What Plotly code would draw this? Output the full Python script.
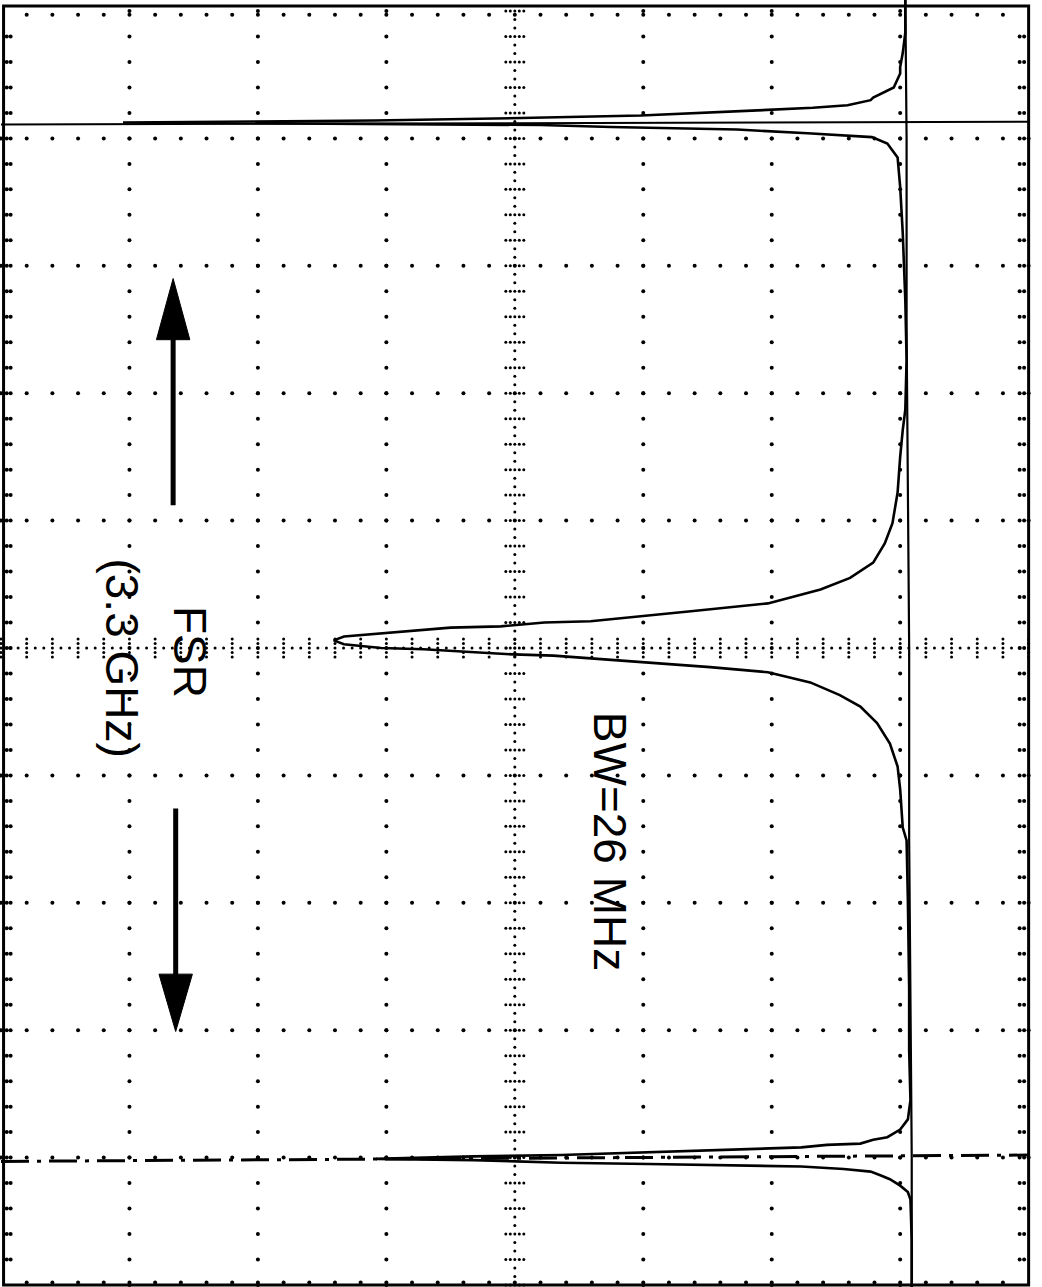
import numpy as np
import plotly.graph_objects as go

# ---- Oscilloscope trace in divisions ----
# sweep axis (vertical on the page, 0..10 div from top) and amplitude axis (horizontal, 0..8 div from left)
sweep = [-0.10, 0.17, 0.33, 0.44, 0.49, 0.60, 0.68, 0.70, 0.74, 0.76, 0.78, 0.82, 0.84, 0.86,
         0.875,
         0.885, 0.895, 0.91, 0.93, 0.96, 0.99, 1.04, 1.15, 1.38, 1.74, 2.27, 2.74,
         3.13, 3.29, 3.50, 3.78, 4.02, 4.18, 4.33, 4.45, 4.54, 4.65, 4.71, 4.76, 4.78, 4.79, 4.80,
         4.83, 4.84, 4.87, 4.89, 4.91,
         4.94,
         4.97, 5.00, 5.01, 5.03, 5.05, 5.06, 5.08, 5.11, 5.15, 5.19, 5.27, 5.37, 5.46, 5.59, 5.75,
         5.93, 6.11, 6.41, 6.51, 6.98, 7.68, 8.16,
         8.55, 8.70, 8.78, 8.84, 8.86, 8.89, 8.90, 8.92, 8.93, 8.96, 8.98, 8.99,
         9.01,
         9.02, 9.04, 9.05, 9.06, 9.07, 9.09, 9.11, 9.14, 9.17, 9.22, 9.27, 9.33, 9.65, 10.10]
amplitude = [7.04, 7.04, 7.02, 7.00, 7.00, 6.95, 6.79, 6.77, 6.59, 6.32, 5.89, 4.98, 4.05, 2.91,
             0.95,
             2.91, 4.20, 4.75, 5.73, 6.28, 6.78, 6.90, 6.98, 7.00, 7.02, 7.04, 7.05,
             7.04, 7.02, 7.00, 6.98, 6.94, 6.88, 6.79, 6.61, 6.38, 5.97, 5.39, 4.88, 4.67, 4.59, 4.23,
             3.89, 3.50, 3.17, 2.90, 2.67,
             2.59,
             2.67, 2.96, 3.29, 3.62, 3.99, 4.30, 4.59, 4.98, 5.52, 5.97, 6.30, 6.53, 6.69, 6.82, 6.92,
             6.98, 7.00, 7.02, 7.05, 7.06, 7.07, 7.07,
             7.08, 7.06, 7.00, 6.90, 6.79, 6.69, 6.43, 6.23, 5.94, 5.04, 4.36, 3.68,
             2.92,
             3.68, 4.36, 5.04, 5.58, 6.23, 6.56, 6.77, 6.85, 6.92, 7.00, 7.06, 7.08, 7.09, 7.09]

# second (flat) trace: the base level running straight down the screen
base_sweep = [-0.10, 1.00, 2.50, 4.00, 5.00, 6.50, 7.50, 9.00, 10.10]
base_amp = [7.04, 7.05, 7.05, 7.06, 7.07, 7.07, 7.08, 7.09, 7.09]

# cursor lines (solid one at the upper resonance, dash-dot one at the lower resonance)
cursor_solid_amp = [0.0, 8.0]
cursor_solid_sweep = [0.89, 0.87]
cursor_dash_amp = [0.0, 8.0]
cursor_dash_sweep = [9.03, 8.98]

# annotation texts
label_bw = "BW=26 MHz"
label_fsr = "FSR"
label_fsr_val = "(3.3 GHz)"

N_X_DIV = 8
N_Y_DIV = 10
MINOR = 5
FONT = "Liberation Sans, Arial, Helvetica, sans-serif"

fig = go.Figure()

# ---- graticule ----
gx, gy = [], []
for k in range(1, N_X_DIV):
    if k == N_X_DIV // 2:
        continue
    for j in range(0, N_Y_DIV * MINOR + 1):
        gx.append(k); gy.append(j / MINOR)
for k in range(1, N_Y_DIV):
    if k == N_Y_DIV // 2:
        continue
    for j in range(0, N_X_DIV * MINOR + 1):
        gx.append(j / MINOR); gy.append(k)
# border ticks
for j in range(1, N_X_DIV * MINOR):
    gx += [j / MINOR, j / MINOR]; gy += [0.03, 9.98]
for j in range(1, N_Y_DIV * MINOR):
    gx += [0.045, 0.075, 7.93, 7.965]; gy += [j / MINOR] * 4
fig.add_trace(go.Scatter(x=gx, y=gy, mode="markers",
                         marker=dict(size=4, color="black"), hoverinfo="skip"))

# centre lines: dense dots + cross ticks
cx, cy = [], []
for v in np.arange(0, N_Y_DIV + 1e-6, 1 / 15):
    cx.append(N_X_DIV / 2); cy.append(v)
for v in np.arange(0, N_X_DIV + 1e-6, 1 / 15):
    cx.append(v); cy.append(N_Y_DIV / 2)
for j in range(0, N_Y_DIV * MINOR + 1):
    for d in (-0.07, -0.035, 0.035, 0.07):
        cx.append(N_X_DIV / 2 + d); cy.append(j / MINOR)
for j in range(0, N_X_DIV * MINOR + 1):
    for d in (-0.07, -0.035, 0.035, 0.07):
        cx.append(j / MINOR); cy.append(N_Y_DIV / 2 + d)
fig.add_trace(go.Scatter(x=cx, y=cy, mode="markers",
                         marker=dict(size=3, color="black"), hoverinfo="skip"))

# ---- cursors ----
fig.add_trace(go.Scatter(x=cursor_solid_amp, y=cursor_solid_sweep, mode="lines",
                         line=dict(color="black", width=2), hoverinfo="skip"))
fig.add_trace(go.Scatter(x=cursor_dash_amp, y=cursor_dash_sweep, mode="lines",
                         line=dict(color="black", width=3, dash="28px,8px,4px,8px"),
                         hoverinfo="skip"))

# ---- traces ----
fig.add_trace(go.Scatter(x=base_amp, y=base_sweep, mode="lines",
                         line=dict(color="black", width=2.2), hoverinfo="skip"))
fig.add_trace(go.Scatter(x=amplitude, y=sweep, mode="lines",
                         line=dict(color="black", width=2.6), hoverinfo="skip"))

# ---- frame ----
fig.add_shape(type="rect", x0=0.02, x1=8.0, y0=-0.04, y1=10.0,
              line=dict(color="black", width=3), layer="above")

# ---- FSR arrows ----
fig.add_shape(type="line", x0=1.34, x1=1.34, y0=3.88, y1=2.50,
              line=dict(color="black", width=5))
fig.add_shape(type="path", path="M 1.34,2.10 L 1.21,2.58 L 1.47,2.58 Z",
              fillcolor="black", line=dict(color="black", width=1))
fig.add_shape(type="line", x0=1.36, x1=1.36, y0=6.26, y1=7.62,
              line=dict(color="black", width=5))
fig.add_shape(type="path", path="M 1.36,8.01 L 1.23,7.56 L 1.49,7.56 Z",
              fillcolor="black", line=dict(color="black", width=1))

# ---- labels ----
fig.add_annotation(x=4.74, y=6.52, text=label_bw, textangle=90, showarrow=False,
                   font=dict(family=FONT, size=46, color="black"),
                   xanchor="center", yanchor="middle")
fig.add_annotation(x=1.47, y=5.03, text=label_fsr, textangle=90, showarrow=False,
                   font=dict(family=FONT, size=46, color="black"),
                   xanchor="center", yanchor="middle")
fig.add_annotation(x=0.94, y=5.08, text=label_fsr_val, textangle=90, showarrow=False,
                   font=dict(family=FONT, size=46, color="black"),
                   xanchor="center", yanchor="middle")

fig.update_layout(
    width=1042, height=1287,
    margin=dict(l=0, r=0, t=0, b=0, pad=0),
    paper_bgcolor="white", plot_bgcolor="white",
    showlegend=False,
    xaxis=dict(range=[-1 / 128.7, 1043 / 128.7], visible=False, fixedrange=True),
    yaxis=dict(range=[1276 / 127.4, -11 / 127.4], visible=False, fixedrange=True),
)

fig.write_html("out.html")
